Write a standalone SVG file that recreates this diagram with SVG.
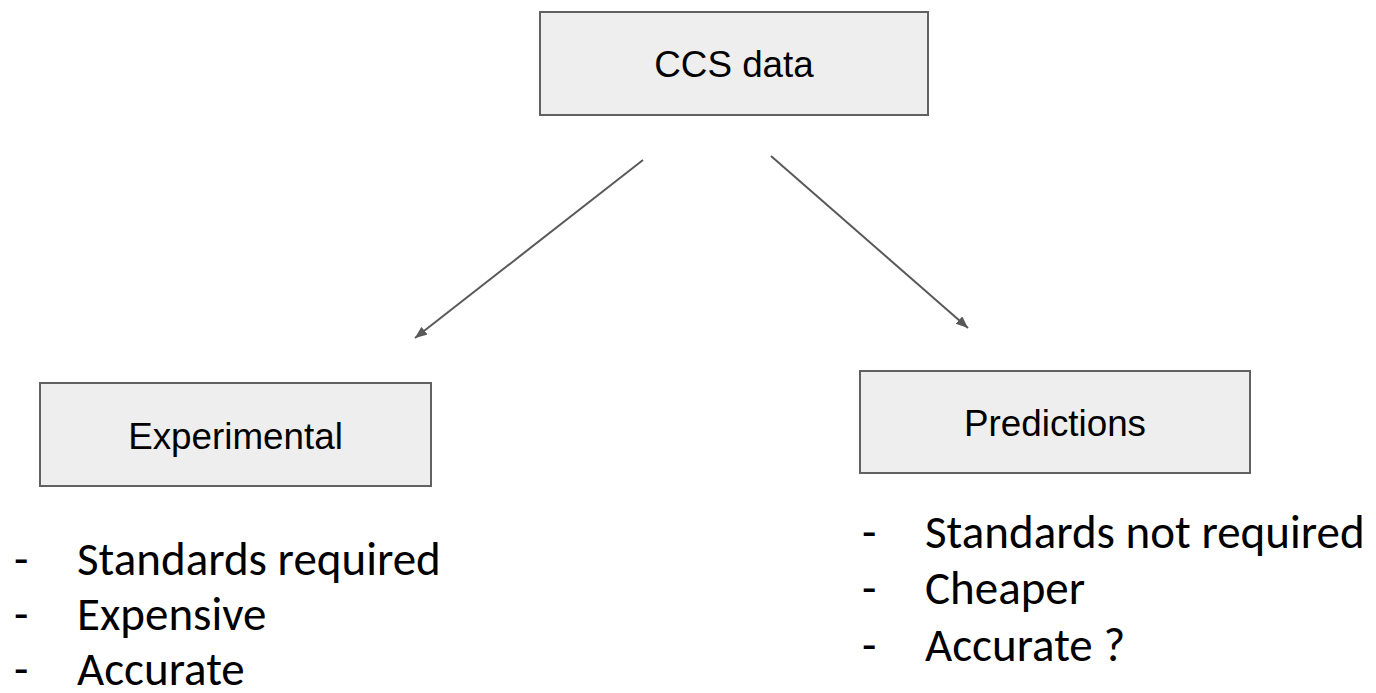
<svg xmlns="http://www.w3.org/2000/svg" width="1376" height="693" viewBox="0 0 1376 693">
  <style>
    .box { fill: #eeeeee; stroke: #616161; stroke-width: 2; }
    .label { font-family: "Liberation Sans", Arial, sans-serif; font-size: 36.8px; fill: #000000; text-anchor: middle; }
    .item { font-family: Carlito, Lato, "Open Sans", sans-serif; font-size: 47px; fill: #000000; }
    .link { stroke: #595959; stroke-width: 2; fill: none; marker-end: url(#arrow); }
  </style>
  <defs>
    <marker id="arrow" markerUnits="userSpaceOnUse" markerWidth="14" markerHeight="12" refX="12" refY="5" orient="auto">
      <path d="M0,0 L12,5 L0,10 Z" fill="#595959"/>
    </marker>
  </defs>
  <rect width="1376" height="693" fill="#ffffff"/>

  <!-- connectors -->
  <g id="connectors">
    <line class="link" x1="643" y1="160" x2="415" y2="338"/>
    <line class="link" x1="771" y1="156" x2="968" y2="328"/>
  </g>

  <!-- root node -->
  <g id="node-ccs">
    <rect class="box" x="540" y="12" width="388" height="103"/>
    <text class="label" x="734" y="77">CCS data</text>
  </g>

  <!-- left branch -->
  <g id="node-experimental">
    <rect class="box" x="40" y="383" width="391" height="103"/>
    <text class="label" x="235.5" y="449">Experimental</text>
  </g>

  <!-- right branch -->
  <g id="node-predictions">
    <rect class="box" x="860" y="371" width="390" height="102"/>
    <text class="label" x="1055" y="436">Predictions</text>
  </g>

  <!-- notes under the left branch -->
  <g id="notes-experimental" class="item">
    <text x="14" y="575">-</text>
    <text x="77" y="575">Standards required</text>
    <text x="14" y="630">-</text>
    <text x="77" y="630">Expensive</text>
    <text x="14" y="685">-</text>
    <text x="77" y="685">Accurate</text>
  </g>

  <!-- notes under the right branch -->
  <g id="notes-predictions" class="item">
    <text x="862" y="548">-</text>
    <text x="925" y="548">Standards not required</text>
    <text x="862" y="604">-</text>
    <text x="925" y="604">Cheaper</text>
    <text x="862" y="661">-</text>
    <text x="925" y="661">Accurate ?</text>
  </g>
</svg>
